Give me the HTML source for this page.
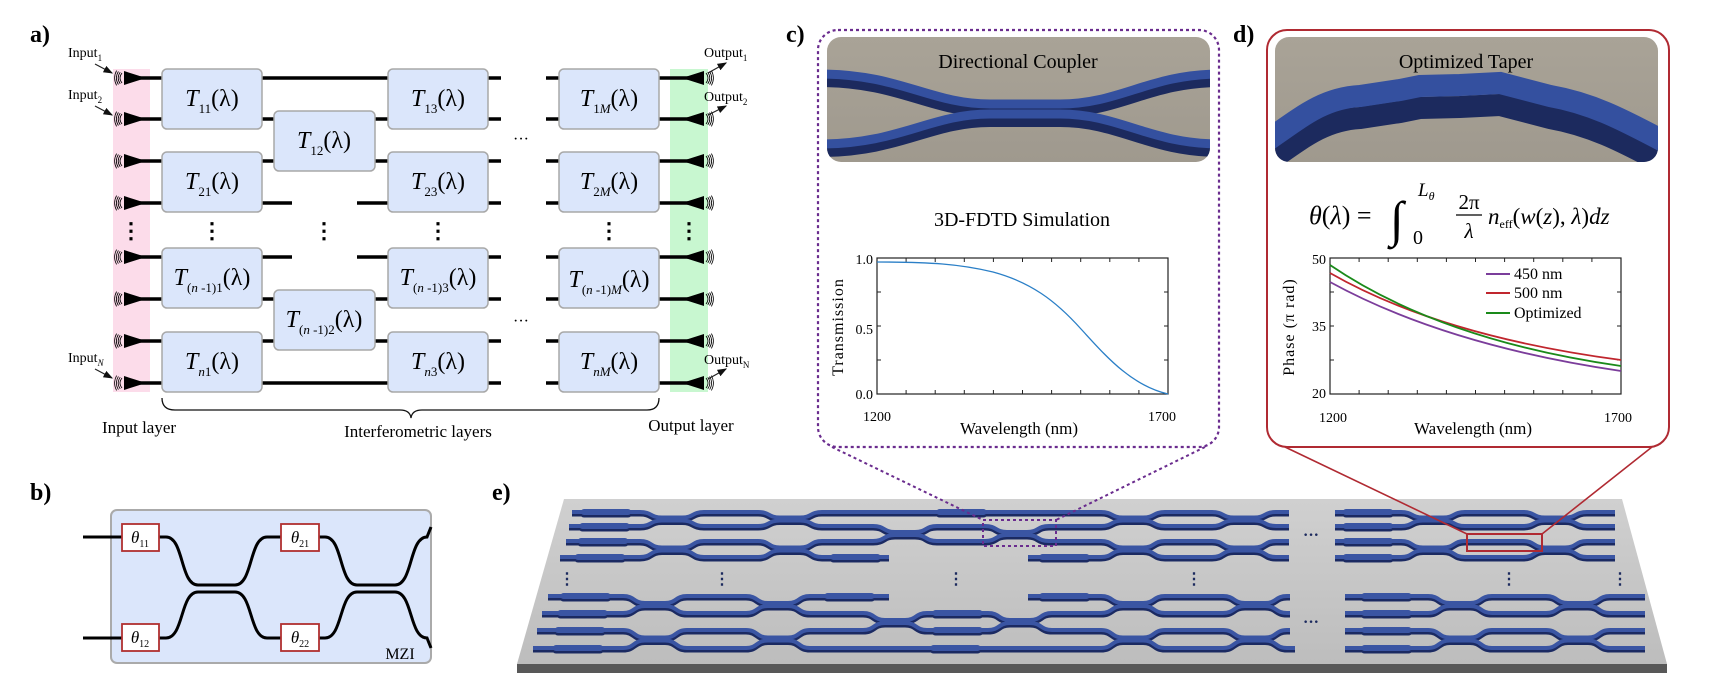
<!DOCTYPE html>
<html><head><meta charset="utf-8"><style>
html,body{margin:0;padding:0;background:#fff}
svg{display:block}
text{font-family:"Liberation Serif",serif}
</style></head><body>
<svg id="s" width="1732" height="700" viewBox="0 0 1732 700" xmlns="http://www.w3.org/2000/svg">
<defs>
<marker id="ar" markerWidth="8" markerHeight="8" refX="7" refY="4" orient="auto"><path d="M0,1 L8,4 L0,7z" fill="#111"/></marker>
<linearGradient id="bg1" x1="0" y1="0" x2="0" y2="1"><stop offset="0" stop-color="#a9a397"/><stop offset="1" stop-color="#9f998e"/></linearGradient>
<linearGradient id="chip" x1="0" y1="0" x2="0" y2="1"><stop offset="0" stop-color="#d0d0d0"/><stop offset="1" stop-color="#bdbdbd"/></linearGradient>
</defs>

<!-- Panel a -->
<text x="30" y="42" font-size="24" font-weight="bold">a)</text>
<rect x="113" y="69" width="37" height="323" fill="#fcdcea"/>
<rect x="670" y="69" width="38" height="323" fill="#c8f7d0"/>
<g stroke="#000" stroke-width="3.5" fill="none" id="wires"></g>
<g id="grat"></g>
<g fill="#dbe6fb" stroke="#a8a8a8" stroke-width="1.5">
<rect x="162" y="69" width="100" height="60" rx="5"/>
<rect x="162" y="152" width="100" height="60" rx="5"/>
<rect x="162" y="248" width="100" height="60" rx="5"/>
<rect x="162" y="332" width="100" height="60" rx="5"/>
<rect x="274" y="111" width="101" height="60" rx="5"/>
<rect x="274" y="290" width="101" height="60" rx="5"/>
<rect x="388" y="69" width="100" height="60" rx="5"/>
<rect x="388" y="152" width="100" height="60" rx="5"/>
<rect x="388" y="248" width="100" height="60" rx="5"/>
<rect x="388" y="332" width="100" height="60" rx="5"/>
<rect x="559" y="69" width="100" height="60" rx="5"/>
<rect x="559" y="152" width="100" height="60" rx="5"/>
<rect x="559" y="248" width="100" height="60" rx="5"/>
<rect x="559" y="332" width="100" height="60" rx="5"/>
</g>
<g font-size="24" text-anchor="middle">
<text x="212" y="106"><tspan font-style="italic">T</tspan><tspan font-size="13" dy="7">11</tspan><tspan dy="-7">(λ)</tspan></text>
<text x="212" y="189"><tspan font-style="italic">T</tspan><tspan font-size="13" dy="7">21</tspan><tspan dy="-7">(λ)</tspan></text>
<text x="212" y="285"><tspan font-style="italic">T</tspan><tspan font-size="13" dy="7">(<tspan font-style="italic">n</tspan> -1)1</tspan><tspan dy="-7">(λ)</tspan></text>
<text x="212" y="369"><tspan font-style="italic">T</tspan><tspan font-size="13" dy="7" font-style="italic">n</tspan><tspan font-size="13">1</tspan><tspan dy="-7">(λ)</tspan></text>
<text x="324" y="148"><tspan font-style="italic">T</tspan><tspan font-size="13" dy="7">12</tspan><tspan dy="-7">(λ)</tspan></text>
<text x="324" y="327"><tspan font-style="italic">T</tspan><tspan font-size="13" dy="7">(<tspan font-style="italic">n</tspan> -1)2</tspan><tspan dy="-7">(λ)</tspan></text>
<text x="438" y="106"><tspan font-style="italic">T</tspan><tspan font-size="13" dy="7">13</tspan><tspan dy="-7">(λ)</tspan></text>
<text x="438" y="189"><tspan font-style="italic">T</tspan><tspan font-size="13" dy="7">23</tspan><tspan dy="-7">(λ)</tspan></text>
<text x="438" y="285"><tspan font-style="italic">T</tspan><tspan font-size="13" dy="7">(<tspan font-style="italic">n</tspan> -1)3</tspan><tspan dy="-7">(λ)</tspan></text>
<text x="438" y="369"><tspan font-style="italic">T</tspan><tspan font-size="13" dy="7" font-style="italic">n</tspan><tspan font-size="13">3</tspan><tspan dy="-7">(λ)</tspan></text>
<text x="609" y="106"><tspan font-style="italic">T</tspan><tspan font-size="13" dy="7">1<tspan font-style="italic">M</tspan></tspan><tspan dy="-7">(λ)</tspan></text>
<text x="609" y="189"><tspan font-style="italic">T</tspan><tspan font-size="13" dy="7">2<tspan font-style="italic">M</tspan></tspan><tspan dy="-7">(λ)</tspan></text>
<text x="609" y="287"><tspan font-style="italic">T</tspan><tspan font-size="13" dy="7">(<tspan font-style="italic">n</tspan> -1)<tspan font-style="italic">M</tspan></tspan><tspan dy="-7">(λ)</tspan></text>
<text x="609" y="369"><tspan font-style="italic">T</tspan><tspan font-size="13" dy="7" font-style="italic">nM</tspan><tspan dy="-7">(λ)</tspan></text>
</g>
<g font-size="22" text-anchor="middle" font-weight="bold">
<text x="131" y="238">⋮</text><text x="212" y="238">⋮</text><text x="324" y="238">⋮</text><text x="438" y="238">⋮</text><text x="609" y="238">⋮</text><text x="689" y="238">⋮</text>
</g>
<g font-size="16" text-anchor="middle"><text x="521" y="144">···</text><text x="521" y="326">···</text></g>
<g font-size="14">
<text x="68" y="57">Input<tspan font-size="9" dy="4">1</tspan></text>
<text x="68" y="99">Input<tspan font-size="9" dy="4">2</tspan></text>
<text x="68" y="362">Input<tspan font-size="9" dy="4" font-style="italic">N</tspan></text>
<text x="704" y="57">Output<tspan font-size="9" dy="4">1</tspan></text>
<text x="704" y="101">Output<tspan font-size="9" dy="4">2</tspan></text>
<text x="704" y="364">Output<tspan font-size="9" dy="4">N</tspan></text>
</g>
<g stroke="#222" stroke-width="1.2" marker-end="url(#ar)">
<line x1="95" y1="64" x2="112" y2="73"/><line x1="95" y1="106" x2="112" y2="115"/><line x1="95" y1="369" x2="112" y2="378"/>
<line x1="708" y1="73" x2="726" y2="63"/><line x1="708" y1="115" x2="726" y2="106"/><line x1="708" y1="379" x2="726" y2="369"/>
</g>
<path d="M162,398 Q162,410 175,410 L400,410 Q410,410 411,418 Q412,410 422,410 L647,410 Q659,410 659,398" fill="none" stroke="#111" stroke-width="1.3"/>
<g font-size="17" text-anchor="middle"><text x="139" y="433">Input layer</text><text x="418" y="437">Interferometric layers</text><text x="691" y="431">Output layer</text></g>

<!-- Panel b -->
<text x="30" y="500" font-size="24" font-weight="bold">b)</text>
<rect x="111" y="510" width="320" height="153" rx="6" fill="#dbe6fb" stroke="#aaa" stroke-width="2"/>
<g fill="none" stroke="#000" stroke-width="3">
<path d="M83,537 H122 M159,537 H166 C184,537 180,585 198,585 H235 C253,585 249,537 267,537 H281 M319,537 H325 C343,537 339,585 357,585 H395 C413,585 409,537 427,537 L431,527"/>
<path d="M83,638 H122 M159,638 H166 C184,638 180,592 198,592 H235 C253,592 249,638 267,638 H281 M319,638 H325 C343,638 339,592 357,592 H395 C413,592 409,638 427,638 L431,648"/>
</g>
<g fill="#fff" stroke="#b03030" stroke-width="1.8">
<rect x="122" y="524" width="37" height="27"/><rect x="281" y="524" width="38" height="27"/>
<rect x="122" y="624" width="37" height="27"/><rect x="281" y="624" width="38" height="27"/>
</g>
<g font-size="17" text-anchor="middle">
<text x="140" y="543"><tspan font-style="italic">θ</tspan><tspan font-size="10" dy="4">11</tspan></text>
<text x="300" y="543"><tspan font-style="italic">θ</tspan><tspan font-size="10" dy="4">21</tspan></text>
<text x="140" y="643"><tspan font-style="italic">θ</tspan><tspan font-size="10" dy="4">12</tspan></text>
<text x="300" y="643"><tspan font-style="italic">θ</tspan><tspan font-size="10" dy="4">22</tspan></text>
</g>
<text x="400" y="659" font-size="16" text-anchor="middle">MZI</text>

<!-- Panel c -->
<text x="786" y="42" font-size="24" font-weight="bold">c)</text>
<rect x="818" y="30" width="401" height="417" rx="20" fill="none" stroke="#6a2c8e" stroke-width="2.2" stroke-dasharray="3,3"/>
<clipPath id="c1"><rect x="827" y="37" width="383" height="125" rx="14"/></clipPath>
<g clip-path="url(#c1)">
<rect x="827" y="37" width="383" height="125" fill="url(#bg1)"/>
<g fill="none" stroke-linecap="butt">
<path d="M820,74 C900,74 930,104 990,104 H1060 C1120,104 1150,74 1220,74" stroke="#1c2a5e" stroke-width="12" transform="translate(0,7)"/>
<path d="M820,74 C900,74 930,104 990,104 H1060 C1120,104 1150,74 1220,74" stroke="#34509f" stroke-width="9"/>
<path d="M820,144 C900,144 930,114 990,114 H1060 C1120,114 1150,144 1220,144" stroke="#1c2a5e" stroke-width="12" transform="translate(0,7)"/>
<path d="M820,144 C900,144 930,114 990,114 H1060 C1120,114 1150,144 1220,144" stroke="#34509f" stroke-width="9"/>
</g>
</g>
<text x="1018" y="68" font-size="20" text-anchor="middle">Directional Coupler</text>
<text x="1022" y="226" font-size="20" text-anchor="middle">3D-FDTD Simulation</text>
<rect x="877" y="258" width="291" height="136" fill="none" stroke="#222" stroke-width="1.2"/>
<g stroke="#222" stroke-width="1" id="ticks1"></g>
<path d="M877,262 C930,262 960,264 993,272 C1030,282 1055,300 1081,329 C1105,355 1130,385 1168,394" fill="none" stroke="#2a7fc7" stroke-width="1.3"/>
<g font-size="14" text-anchor="end"><text x="873" y="264">1.0</text><text x="873" y="334">0.5</text><text x="873" y="399">0.0</text></g>
<g font-size="14" text-anchor="middle"><text x="877" y="421">1200</text><text x="1162" y="421">1700</text></g>
<text x="1019" y="434" font-size="17" text-anchor="middle">Wavelength (nm)</text>
<text x="0" y="0" font-size="16" text-anchor="middle" transform="translate(843,327) rotate(-90)" letter-spacing="1">Transmission</text>

<!-- Panel d -->
<text x="1233" y="42" font-size="24" font-weight="bold">d)</text>
<rect x="1267" y="30" width="402" height="417" rx="20" fill="none" stroke="#b02a32" stroke-width="2"/>
<clipPath id="c2"><rect x="1275" y="37" width="383" height="125" rx="14"/></clipPath>
<g clip-path="url(#c2)">
<rect x="1275" y="37" width="383" height="125" fill="url(#bg1)"/>
<path d="M1268,150 C1305,124 1325,108 1360,106 L1400,100 L1420,96 L1460,95 L1500,93 L1527,100 L1550,106 C1590,113 1620,128 1665,152" fill="none" stroke="#1c2a5e" stroke-width="22" transform="translate(0,12)"/>
<path d="M1268,140 C1305,114 1325,98 1360,96 L1400,90 L1420,86 L1460,85 L1500,83 L1527,90 L1550,96 C1590,103 1620,118 1665,142" fill="none" stroke="#34509f" stroke-width="22"/>
</g>
<text x="1466" y="68" font-size="20" text-anchor="middle">Optimized Taper</text>
<g>
<text x="1309" y="224" font-size="26"><tspan font-style="italic">θ</tspan>(<tspan font-style="italic">λ</tspan>) =</text>
<text x="1390" y="236" font-size="50">∫</text>
<text x="1418" y="196" font-size="19" font-style="italic">L<tspan font-size="12" dy="4">θ</tspan></text>
<text x="1413" y="244" font-size="20">0</text>
<text x="1469" y="209" font-size="21" text-anchor="middle">2π</text>
<line x1="1456" y1="215" x2="1482" y2="215" stroke="#000" stroke-width="1.2"/>
<text x="1469" y="238" font-size="21" text-anchor="middle" font-style="italic">λ</text>
<text x="1488" y="224" font-size="23"><tspan font-style="italic">n</tspan><tspan font-size="12" dy="4">eff</tspan><tspan dy="-4">(<tspan font-style="italic">w</tspan>(<tspan font-style="italic">z</tspan>), <tspan font-style="italic">λ</tspan>)<tspan font-style="italic">dz</tspan></tspan></text>
</g>
<rect x="1330" y="258" width="291" height="136" fill="none" stroke="#222" stroke-width="1.2"/>
<g stroke="#222" stroke-width="1" id="ticks2"></g>
<path d="M1330,282 Q1445,345 1621,371" fill="none" stroke="#7b3d9b" stroke-width="1.8"/>
<path d="M1330,273 Q1440,336 1621,360" fill="none" stroke="#c0262e" stroke-width="1.8"/>
<path d="M1330,265 Q1440,340 1621,366" fill="none" stroke="#1a8a1a" stroke-width="1.8"/>
<g stroke-width="2"><line x1="1486" y1="274" x2="1510" y2="274" stroke="#7b3d9b"/><line x1="1486" y1="293" x2="1510" y2="293" stroke="#c0262e"/><line x1="1486" y1="313" x2="1510" y2="313" stroke="#1a8a1a"/></g>
<g font-size="16"><text x="1514" y="279">450 nm</text><text x="1514" y="298">500 nm</text><text x="1514" y="318">Optimized</text></g>
<g font-size="14" text-anchor="end"><text x="1326" y="264">50</text><text x="1326" y="331">35</text><text x="1326" y="398">20</text></g>
<g font-size="14" text-anchor="middle"><text x="1333" y="422">1200</text><text x="1618" y="422">1700</text></g>
<text x="1473" y="434" font-size="17" text-anchor="middle">Wavelength (nm)</text>
<text x="0" y="0" font-size="16" text-anchor="middle" transform="translate(1294,327) rotate(-90)" letter-spacing="1">Phase (π rad)</text>

<!-- Panel e -->
<text x="492" y="500" font-size="24" font-weight="bold">e)</text>
<polygon points="517,664 1667,664 1667,673 517,673" fill="#585858"/>
<polygon points="564,499 1622,499 1667,664 517,664" fill="url(#chip)"/>
<g id="wg"></g>
<g font-size="16" text-anchor="middle" fill="#1c2a5e" font-weight="bold">
<text x="1311" y="540">···</text><text x="1311" y="627">···</text>
<text x="567" y="584">⋮</text><text x="722" y="584">⋮</text><text x="956" y="584">⋮</text><text x="1194" y="584">⋮</text><text x="1509" y="584">⋮</text><text x="1620" y="584">⋮</text>
</g>
<rect x="983" y="520" width="73" height="26" fill="none" stroke="#6a2c8e" stroke-width="2" stroke-dasharray="3,3"/>
<rect x="1467" y="534" width="75" height="17" fill="none" stroke="#b02a32" stroke-width="2"/>
<g fill="none" stroke-width="1.6">
<path d="M832,447 L983,520 M1205,447 L1056,520" stroke="#6a2c8e" stroke-dasharray="3,3" stroke-width="2"/>
<path d="M1285,447 L1467,534 M1652,447 L1542,534" stroke="#b02a32"/>
</g>
</svg>
<script>
(function(){
var NS="http://www.w3.org/2000/svg";
function el(p,t,a){var e=document.createElementNS(NS,t);for(var k in a)e.setAttribute(k,a[k]);p.appendChild(e);return e;}
var W=document.getElementById('wires');
var R=[78,119,161,203,257,299,341,383];
R.forEach(function(y,i){
 var segs=[[140,162],[488,501],[546,559],[659,688]];
 if(i==0||i==7)segs.push([262,388]);
 else if(i==3||i==4)segs.push([262,292],[357,388]);
 else segs.push([262,274],[375,388]);
 segs.forEach(function(s){el(W,'line',{x1:s[0],y1:y,x2:s[1],y2:y});});
});
var G=document.getElementById('grat');
R.forEach(function(y){
 el(G,'polygon',{points:'124,'+(y-7)+' 124,'+(y+7)+' 146,'+y,fill:'#000'});
 el(G,'polygon',{points:'704,'+(y-7)+' 704,'+(y+7)+' 682,'+y,fill:'#000'});
 for(var k=0;k<4;k++){
  var x=122-k*1.8, r=5+k*0.8;
  el(G,'path',{d:'M'+x+','+(y-r)+' Q'+(x-4)+','+y+' '+x+','+(y+r),fill:'none',stroke:'#000','stroke-width':0.8});
  var x2=706+k*1.8;
  el(G,'path',{d:'M'+x2+','+(y-r)+' Q'+(x2+4)+','+y+' '+x2+','+(y+r),fill:'none',stroke:'#000','stroke-width':0.8});
 }
});
function ticks(id,x0,x1,y0,y1,nx,ny){var g=document.getElementById(id);
 for(var i=1;i<nx;i++){var x=x0+(x1-x0)*i/nx;el(g,'line',{x1:x,y1:y1,x2:x,y2:y1-4});el(g,'line',{x1:x,y1:y0,x2:x,y2:y0+4});}
 for(var j=1;j<ny;j++){var y=y0+(y1-y0)*j/ny;el(g,'line',{x1:x0,y1:y,x2:x0+4,y2:y});el(g,'line',{x1:x1,y1:y,x2:x1-4,y2:y});}}
ticks('ticks1',877,1168,258,394,10,4);ticks('ticks2',1330,1621,258,394,10,4);
var Y=[512,526,541,557,596,613,630,648];
var segs=[
 [[572,1289],[1335,1615]],
 [[569,1289],[1335,1615]],
 [[566,1289],[1335,1615]],
 [[560,889],[1028,1289],[1335,1615]],
 [[548,889],[1028,1290],[1345,1645]],
 [[542,1290],[1345,1645]],
 [[537,1290],[1345,1645]],
 [[533,1295],[1345,1645]]];
var C=[[0,672],[0,790],[0,1133],[0,1244],[0,1433],[0,1555],
 [1,905],[1,1017],
 [2,672],[2,790],[2,1133],[2,1244],[2,1433],[2,1555],
 [4,655],[4,778],[4,1133],[4,1255],[4,1460],[4,1578],
 [5,895],[5,1020],
 [6,655],[6,778],[6,1133],[6,1255],[6,1460],[6,1578]];
var g=document.getElementById('wg');
var ds=[],th=[];
Y.forEach(function(y,i){
 var ev=[];
 C.forEach(function(c){
  if(c[0]==i){ev.push([c[1],(y+Y[i+1])/2-1.5]);}
  if(c[0]==i-1){ev.push([c[1],(Y[i-1]+y)/2+1.5]);}
 });
 ev.sort(function(a,b){return a[0]-b[0];});
 var d='';
 segs[i].forEach(function(s){
  d+='M'+s[0]+','+y;
  var prev=s[0];
  ev.forEach(function(e){ if(e[0]>s[0]+30&&e[0]<s[1]-30){var cx=e[0],m=e[1];
   var a=cx-32; if(a-prev>60){var c=(prev+a)/2;th.push([c-22,c+22,y]);}
   prev=cx+32;
   d+=' L'+(cx-32)+','+y+' C'+(cx-20)+','+y+' '+(cx-22)+','+m+' '+(cx-10)+','+m+' L'+(cx+10)+','+m+' C'+(cx+22)+','+m+' '+(cx+20)+','+y+' '+(cx+32)+','+y;}});
  if(s[1]-prev>60){var c=(prev+s[1])/2;th.push([c-22,c+22,y]);}
  d+=' L'+s[1]+','+y+' ';
 });
 ds.push(d);
});
ds.forEach(function(d){el(g,'path',{d:d,fill:'none',stroke:'#1b2a62','stroke-width':6,transform:'translate(0,1.5)'});});
th.forEach(function(t){el(g,'line',{x1:t[0],y1:t[2]+1.5,x2:t[1],y2:t[2]+1.5,stroke:'#1b2a62','stroke-width':8,'stroke-linecap':'round'});});
ds.forEach(function(d){el(g,'path',{d:d,fill:'none',stroke:'#3a55a3','stroke-width':4});});
th.forEach(function(t){el(g,'line',{x1:t[0],y1:t[2],x2:t[1],y2:t[2],stroke:'#3a55a3','stroke-width':6,'stroke-linecap':'round'});});
})();
</script>
</body></html>
